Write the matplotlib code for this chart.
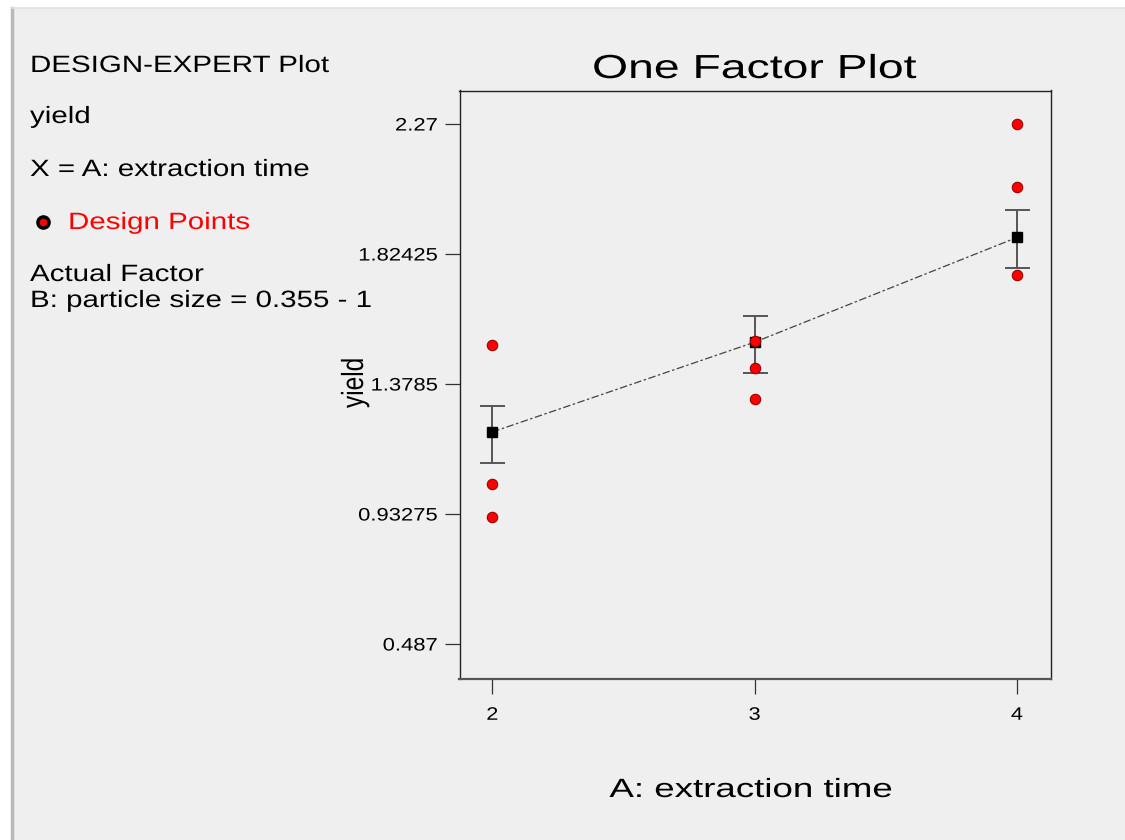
import matplotlib
matplotlib.use("Agg")
import matplotlib.pyplot as plt
from matplotlib.patches import Rectangle
from matplotlib.lines import Line2D
from matplotlib.patheffects import AbstractPathEffect
from matplotlib.transforms import Affine2D

plt.rcParams['font.family'] = ['Liberation Sans', 'DejaVu Sans']

# Data
levels = [2, 3, 4]
design_x = [2, 2, 2, 3, 3, 3, 4, 4, 4]
design_y = [1.514, 1.035, 0.924, 1.525, 1.434, 1.326, 2.27, 2.053, 1.754]
pred_mean = [1.214, 1.522, 1.881]
ci_low = [1.109, 1.417, 1.778]
ci_high = [1.304, 1.613, 1.975]
y_ticks = [0.487, 0.93275, 1.3785, 1.82425, 2.27]
y_tick_labels = ['0.487', '0.93275', '1.3785', '1.82425', '2.27']

BG = '#efefef'


class Stretch(AbstractPathEffect):
    """Widen (or narrow) text glyphs along the text direction, like the wide
    letter spacing of the Design-Expert export."""

    def __init__(self, sx, anchor='left'):
        super().__init__()
        self.sx = sx
        self.anchor = anchor

    def draw_path(self, renderer, gc, tpath, affine, rgbFace=None):
        ext = tpath.get_extents()
        if self.anchor == 'center':
            cx = (ext.x0 + ext.x1) / 2
        elif self.anchor == 'right':
            cx = ext.x1
        else:
            cx = 0
        t = Affine2D().translate(-cx, 0).scale(self.sx, 1).translate(cx, 0)
        renderer.draw_path(gc, tpath, t + affine, rgbFace)


def fy(py):
    return 1 - py / 840


fig = plt.figure(figsize=(11.25, 8.4), dpi=100)
fig.patch.set_facecolor('white')

# Window-like backdrop
fig.add_artist(Rectangle((0.0107, 0.0), 0.99, 1 - 8 / 840, transform=fig.transFigure,
                         facecolor=BG, edgecolor='none', zorder=-10))
fig.add_artist(Line2D([0.0107, 0.0107], [0.0, 1 - 8 / 840], transform=fig.transFigure,
                      color='#b8b8b8', linewidth=2.5, zorder=-9))
fig.add_artist(Line2D([0.0107, 1.0], [1 - 8 / 840, 1 - 8 / 840], transform=fig.transFigure,
                      color='#e2e2e2', linewidth=1.2, zorder=-9))

ax = fig.add_axes([459.5 / 1125, fy(679), (1051 - 459.5) / 1125, (679 - 90.5) / 840])
ax.set_facecolor(BG)

# Error bars on the predicted means
yerr = [[m - lo for m, lo in zip(pred_mean, ci_low)],
        [hi - m for m, hi in zip(pred_mean, ci_high)]]
ax.errorbar(levels, pred_mean, yerr=yerr, fmt='none', ecolor='#555555',
            elinewidth=1.4, capsize=9, capthick=1.4, zorder=2)

# Dashed line through the means
ax.plot(levels, pred_mean, color='#444444', linewidth=0.9,
        linestyle=(0, (6, 2, 2, 2)), zorder=3)
ax.plot(levels, pred_mean, 's', color='black', markersize=7.5, zorder=4)

# Design points
ax.plot(design_x, design_y, 'o', markerfacecolor='#ff0000', markeredgecolor='#990000',
        markeredgewidth=0.8, markersize=7.5, linestyle='none', zorder=5)

ax.set_xlim(1.875, 4.13)
ax.set_ylim(0.367, 2.385)
ax.set_xticks(levels)
ax.set_xticklabels([str(v) for v in levels])
ax.set_yticks(y_ticks)
ax.set_yticklabels(y_tick_labels)
ax.tick_params(axis='both', direction='out', length=11, width=0.9, colors='#333333',
               labelsize=13, labelcolor='black')
ax.tick_params(axis='x', pad=9)
ax.tick_params(axis='y', pad=5)
for lbl in ax.get_yticklabels():
    lbl.set_path_effects([Stretch(1.22, 'right')])
for lbl in ax.get_xticklabels():
    lbl.set_path_effects([Stretch(1.2, 'center')])
for side in ['left', 'right', 'top']:
    ax.spines[side].set_color('#222222')
    ax.spines[side].set_linewidth(1.0)
ax.spines['bottom'].set_color('#555555')
ax.spines['bottom'].set_linewidth(1.6)

# Title and axis labels
fig.text(754.5 / 1125, fy(78), 'One Factor Plot', fontsize=24, ha='center', va='baseline',
         path_effects=[Stretch(1.39, 'center')])
fig.text(751 / 1125, fy(797), 'A: extraction time', fontsize=19, ha='center', va='baseline',
         path_effects=[Stretch(1.39, 'center')])
fig.text(355 / 1125, fy(383), 'yield', fontsize=22, rotation=90, ha='center', va='center',
         path_effects=[Stretch(0.8, 'center')])

# Left-side annotation block
left = 30 / 1125
wide = [Stretch(1.25)]
fig.text(left, fy(72), 'DESIGN-EXPERT Plot', fontsize=17, va='baseline', path_effects=wide)
fig.text(left, fy(123), 'yield', fontsize=17, va='baseline', path_effects=wide)
fig.text(left, fy(176), 'X = A: extraction time', fontsize=17, va='baseline', path_effects=wide)
fig.add_artist(Line2D([43 / 1125], [fy(221.5)], transform=fig.transFigure, marker='o',
                      markersize=8, markerfacecolor='#ff0000', markeredgecolor='black',
                      markeredgewidth=2.5, linestyle='none'))
fig.text(68 / 1125, fy(229), 'Design Points', fontsize=17, color='#ff0000', va='baseline',
         path_effects=wide)
fig.text(left, fy(281), 'Actual Factor', fontsize=17, va='baseline', path_effects=wide)
fig.text(left, fy(307), 'B: particle size = 0.355 - 1', fontsize=17, va='baseline',
         path_effects=wide)

fig.savefig('out.png', dpi=100, facecolor=fig.get_facecolor())
